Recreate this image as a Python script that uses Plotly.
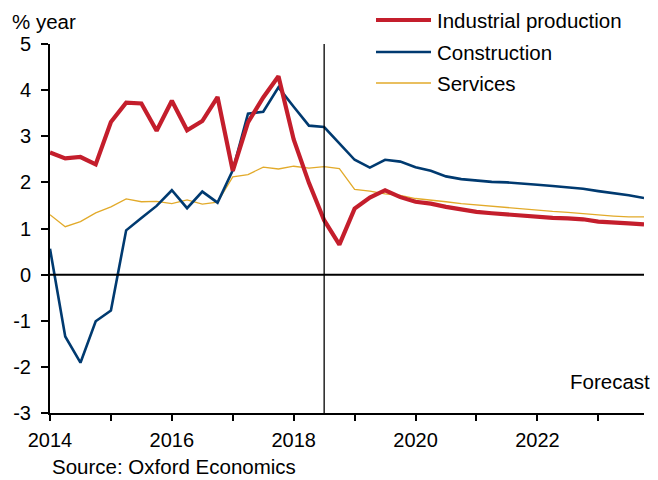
import plotly.graph_objects as go

quarters = [2014 + 0.25 * i for i in range(40)]

industrial = [2.65, 2.52, 2.55, 2.39, 3.31, 3.73, 3.71, 3.12, 3.77, 3.13,
              3.33, 3.85, 2.25, 3.30, 3.84, 4.30, 2.93, 1.99, 1.18, 0.65,
              1.43, 1.67, 1.83, 1.68, 1.58, 1.54, 1.47, 1.41, 1.36, 1.33,
              1.30, 1.28, 1.25, 1.23, 1.22, 1.20, 1.15, 1.12, 1.11, 1.09]

construction = [0.56, -1.34, -1.91, -1.01, -0.78, 0.96, 1.23, 1.49, 1.83, 1.44,
                1.80, 1.56, 2.26, 3.49, 3.53, 4.06, 3.64, 3.23, 3.20, 2.85,
                2.49, 2.32, 2.49, 2.45, 2.33, 2.25, 2.13, 2.07, 2.04, 2.01,
                2.00, 1.98, 1.95, 1.92, 1.89, 1.86, 1.81, 1.77, 1.72, 1.66]

services = [1.30, 1.04, 1.15, 1.34, 1.47, 1.64, 1.58, 1.59, 1.54, 1.62,
            1.53, 1.57, 2.12, 2.17, 2.33, 2.29, 2.35, 2.31, 2.34, 2.30,
            1.85, 1.81, 1.75, 1.72, 1.65, 1.62, 1.58, 1.54, 1.51, 1.49,
            1.46, 1.43, 1.40, 1.37, 1.35, 1.32, 1.29, 1.27, 1.25, 1.25]

forecast_start = 2018.5
y_ticks = [-3, -2, -1, 0, 1, 2, 3, 4, 5]
y_labels = ["-3", "-2", "-1", "0", "1", "2", "3", "4", "5"]
x_ticks = [2014, 2016, 2018, 2020, 2022]
x_labels = ["2014", "2016", "2018", "2020", "2022"]

RED = "#C41E2C"
BLUE = "#003A70"
YELLOW = "#E2AA2A"
FONT = "Liberation Sans, Arial, sans-serif"
FS = 20.5
TFS = 20

# page offset of the default 8px body margin
OFF = 8
PL, PR, PT, PB = 50, 644, 44, 413   # plot area in page pixels
PW, PH = PR - PL, PB - PT


def px(xp):
    return (xp - PL) / PW


def py(yp):
    return 1 - (yp - PT) / PH


series = [
    ("Industrial production", industrial, RED, 4.2),
    ("Construction", construction, BLUE, 2.6),
    ("Services", services, YELLOW, 1.3),
]

fig = go.Figure()
for name, vals, col, w in reversed(series):
    fig.add_trace(go.Scatter(x=quarters, y=vals, mode="lines", name=name,
                             line=dict(color=col, width=w), showlegend=False))

fig.add_shape(type="line", xref="paper", x0=0, x1=1, yref="y", y0=0, y1=0,
              line=dict(color="black", width=2))
fig.add_shape(type="line", xref="x", x0=forecast_start, x1=forecast_start,
              yref="y", y0=-3, y1=5, line=dict(color="black", width=1.3))

leg_y = [20, 52, 83]
for (name, vals, col, w), ly in zip(series, leg_y):
    fig.add_shape(type="line", xref="paper", yref="paper",
                  x0=px(376), x1=px(431), y0=py(ly), y1=py(ly),
                  line=dict(color=col, width=w))
    fig.add_annotation(xref="paper", yref="paper", x=px(435), y=py(ly),
                       text=name, showarrow=False, xanchor="left", yanchor="middle",
                       font=dict(size=FS, color="black", family=FONT))

fig.add_annotation(xref="paper", yref="paper", x=px(11), y=py(8.5),
                   text="% year", showarrow=False, xanchor="left", yanchor="top",
                   borderpad=0,
                   font=dict(size=FS, color="black", family=FONT))
fig.add_annotation(xref="paper", yref="paper", x=px(652), y=py(381),
                   text="Forecast", showarrow=False, xanchor="right", yanchor="middle",
                   font=dict(size=FS, color="black", family=FONT))
fig.add_annotation(xref="paper", yref="paper", x=px(50), y=py(466),
                   text="Source: Oxford Economics", showarrow=False, xanchor="left",
                   yanchor="middle", font=dict(size=FS, color="black", family=FONT))

fig.update_layout(
    width=658 - OFF, height=480 - OFF,
    margin=dict(l=PL - OFF, r=658 - PR, t=PT - OFF, b=480 - PB, autoexpand=False),
    paper_bgcolor="white", plot_bgcolor="white",
    font=dict(family=FONT, size=FS, color="black"),
    showlegend=False,
)
fig.update_xaxes(range=[2014, 2023.75], tickvals=x_ticks, ticktext=x_labels,
                 ticks="outside", ticklen=6, tickwidth=2, tickcolor="black",
                 ticklabelstandoff=2,
                 minor=dict(dtick=1, tick0=2014, ticks="outside", ticklen=6,
                            tickwidth=2, tickcolor="black", showgrid=False),
                 showline=True, linecolor="black", linewidth=2,
                 showgrid=False, zeroline=False,
                 tickfont=dict(size=TFS, color="black", family=FONT))
fig.update_yaxes(range=[-3, 5], tickvals=y_ticks, ticktext=y_labels,
                 ticks="outside", ticklen=7, tickwidth=2, tickcolor="black",
                 ticklabelstandoff=6,
                 showline=True, linecolor="black", linewidth=2,
                 showgrid=False, zeroline=False,
                 tickfont=dict(size=TFS, color="black", family=FONT))

fig.write_html("out.html")
